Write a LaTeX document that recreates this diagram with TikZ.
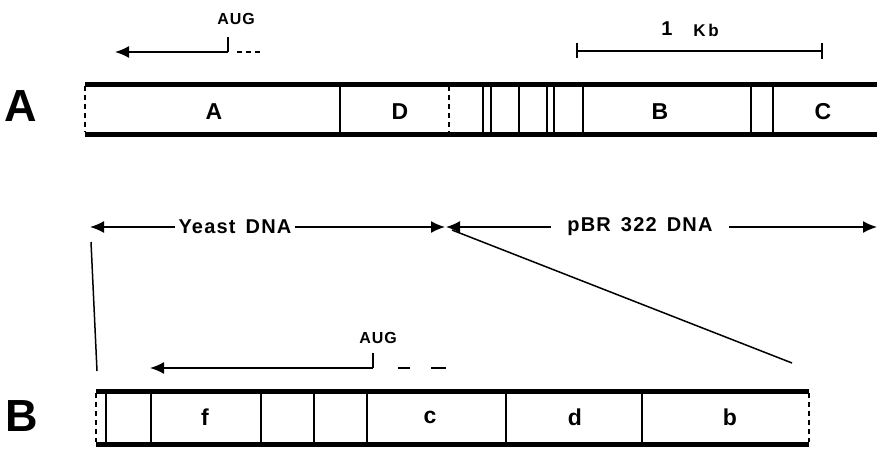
\documentclass[tikz,border=0pt]{standalone}
\usepackage{fontspec}
\setmainfont{Liberation Sans}
\newfontfamily\spaced[LetterSpace=6]{Liberation Sans}
\usetikzlibrary{arrows.meta}
\begin{document}
\begin{tikzpicture}[x=1pt,y=-1pt,
  barline/.style={line width=5pt},
  divider/.style={line width=1.4pt},
  dashend/.style={line width=1.6pt,dash pattern=on 5pt off 4pt},
  lbl/.style={font=\bfseries\fontsize{23}{23}\selectfont,inner sep=0pt},
  big/.style={font=\bfseries\fontsize{45}{45}\selectfont,inner sep=0pt},
  small/.style={font=\spaced\bfseries\fontsize{16}{16}\selectfont,inner sep=0pt},
  mid/.style={font=\spaced\bfseries\fontsize{20}{20}\selectfont,inner sep=0pt,fill=white},
  arr/.style={line width=1.6pt,-{Latex[length=14pt,width=12pt]}},
  darr/.style={line width=1.6pt,{Latex[length=14pt,width=12pt]}-{Latex[length=14pt,width=12pt]}},
  thin/.style={line width=1.5pt}]
\useasboundingbox (0,0) rectangle (877,452);

% ---- row A ----
\node[big] (bigA) at (21,106) {A};
\draw[barline] (85,84) -- (877,84);
\draw[barline] (85,134) -- (877,134);
\draw[dashend] (85,86) -- (85,132);
\foreach \x in {340,483,491,519,547,554,583,751,773}
  \draw[divider] (\x,86) -- (\x,132);
\draw[dashend] (449,86) -- (449,132);
\node[lbl] (lA) at (214,112) {A};
\node[lbl] (lD) at (400,112) {D};
\node[lbl] (lB) at (660,112) {B};
\node[lbl] (lC) at (823,112) {C};

% AUG top
\node[small] (aug1) at (236,19) {AUG};
\coordinate (t1a) at (228,37);
\coordinate (t1b) at (228,52);
\coordinate (t1c) at (115,52);
\draw[thin] (t1a) -- (t1b);
\draw[arr] (t1b) -- (t1c);
\draw[line width=1.5pt,dash pattern=on 5pt off 4pt] (237,52) -- (263,52);

% scale bar
\coordinate (s1) at (577,51);
\coordinate (s2) at (822,51);
\draw[thin] (s1) -- (s2);
\draw[thin] (577,43) -- (577,58);
\draw[thin] (822,43) -- (822,59);
\node[font=\bfseries\fontsize{20}{20}\selectfont,inner sep=0pt] (one) at (667,29) {1};
\node[font=\spaced\bfseries\fontsize{17}{17}\selectfont,inner sep=0pt] (kb) at (706,30) {K\,b};

% ---- middle arrows ----
\coordinate (y1) at (90,227);
\coordinate (y2) at (445,227);
\coordinate (p1) at (446,227);
\coordinate (p2) at (877,227);
\draw[darr] (y2) -- (y1);
\draw[darr] (p1) -- (p2);
\node[mid,inner xsep=1pt,minimum width=120pt] (yeast) at (235,227) {Yeast\, DNA};
\node[mid,inner xsep=2pt,minimum width=178pt] (pbr) at (640,227) {pBR\, 322\, DNA};

% slanted lines
\coordinate (sl1) at (452,230);
\coordinate (sl2) at (792,363);
\draw[thin] (sl1) -- (sl2);
\coordinate (sl3) at (91,242);
\coordinate (sl4) at (97,371);
\draw[thin] (sl3) -- (sl4);

% ---- row B ----
\node[big] (bigB) at (22,416) {B};
\draw[barline] (96,391) -- (809,391);
\draw[barline] (96,444) -- (809,444);
\draw[dashend] (96,393) -- (96,442);
\draw[dashend] (809,393) -- (809,442);
\foreach \x in {106,151,261,314,367,506,642}
  \draw[divider] (\x,393) -- (\x,442);
\node[lbl] (lf) at (205,417) {f};
\node[lbl] (lc) at (430,417) {c};
\node[lbl] (ld) at (575,417) {d};
\node[lbl] (lb) at (730,417) {b};

% AUG bottom
\node[small] (aug2) at (378,338) {AUG};
\coordinate (t2a) at (373,353);
\coordinate (t2b) at (373,368);
\coordinate (t2c) at (150,368);
\draw[thin] (t2a) -- (t2b);
\draw[arr] (t2b) -- (t2c);
\draw[line width=1.5pt] (398,368) -- (410,368);
\draw[line width=1.5pt] (431,368) -- (446,368);
\end{tikzpicture}
\end{document}
